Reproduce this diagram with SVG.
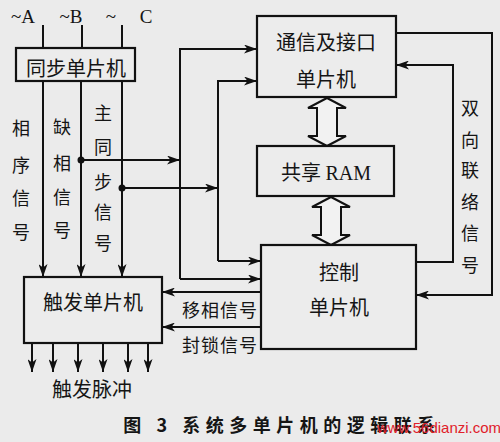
<svg xmlns="http://www.w3.org/2000/svg" width="500" height="442" viewBox="0 0 500 442">
<defs>
<style>
.box{fill:#ececec;stroke:#111;stroke-width:2.2}
.ln{fill:none;stroke:#111;stroke-width:2}
.ar{marker-end:url(#ah)}
.cn{font-family:"Noto Sans CJK SC","Noto Sans",sans-serif;fill:#151515;text-anchor:middle}
.t20{font-size:20px}
.t18{font-size:18px}
.dbl{fill:#f2f2f2;stroke:#111;stroke-width:2}
</style>
<marker id="ah" markerUnits="userSpaceOnUse" markerWidth="14" markerHeight="9" refX="13" refY="4.5" orient="auto">
<path d="M0,0 L13,4.5 L0,9 L3.5,4.5 z" fill="#111"/>
</marker>
</defs>
<rect width="500" height="442" fill="#ebebeb"/>

<g id="inputs">
<text x="23" y="23" font-family="Liberation Serif,serif" font-size="19" text-anchor="middle" fill="#151515">~A</text>
<text x="71" y="23" font-family="Liberation Serif,serif" font-size="19" text-anchor="middle" fill="#151515">~B</text>
<text x="111" y="23" font-family="Liberation Serif,serif" font-size="19" text-anchor="middle" fill="#151515">~</text>
<text x="146" y="23" font-family="Liberation Serif,serif" font-size="19" text-anchor="middle" fill="#151515">C</text>
</g>

<g id="connectors">
<path class="ln" d="M43,25 V48 M82,25 V48 M122,25 V48"/>
<path class="ln ar" d="M43,81 V277"/>
<path class="ln ar" d="M81,81 V277"/>
<path class="ln ar" d="M122,81 V277"/>
<path class="ln ar" d="M81,160 H180"/>
<path class="ln ar" d="M122,188 H218"/>
<path class="ln ar" d="M180,279 V49 H257"/>
<path class="ln ar" d="M180,279 H261"/>
<path class="ln ar" d="M218,261 V81 H257"/>
<path class="ln ar" d="M218,261 H261"/>
<path class="ln ar" d="M396,33 H492 V295 H416"/>
<path class="ln ar" d="M416,262 H453 V65 H396"/>
<path class="ln ar" d="M261,292 H162"/>
<path class="ln ar" d="M261,327 H162"/>
<path class="ln ar" d="M32,343 V372"/>
<path class="ln ar" d="M53,343 V372"/>
<path class="ln ar" d="M78,343 V372"/>
<path class="ln ar" d="M103,343 V372"/>
<path class="ln ar" d="M128,343 V372"/>
<path class="ln ar" d="M148,343 V372"/>
<circle cx="81" cy="160" r="3.5" fill="#111"/>
<circle cx="122" cy="188" r="3.5" fill="#111"/>
<path class="dbl" d="M327,98 L346,108 L337,108 L337,136 L346,136 L327,146 L308,136 L317,136 L317,108 L308,108 Z"/>
<path class="dbl" d="M331,197 L350,207 L341,207 L341,235 L350,235 L331,245 L312,235 L321,235 L321,207 L312,207 Z"/>
</g>

<g id="sync">
<rect class="box" x="16" y="48" width="119" height="33"/>
<text class="cn t20" x="76" y="76">同步单片机</text>
</g>

<g id="comm">
<rect class="box" x="257" y="16" width="139" height="81"/>
<text class="cn t20" x="326" y="50">通信及接口</text>
<text class="cn t20" x="326" y="87">单片机</text>
</g>

<g id="ram">
<rect class="box" x="257" y="146" width="137" height="50"/>
<text class="cn t20" x="326" y="180">共享 <tspan font-family="Liberation Serif,serif">RAM</tspan></text>
</g>

<g id="control">
<rect class="box" x="261" y="245" width="155" height="104"/>
<text class="cn t20" x="339" y="280">控制</text>
<text class="cn t20" x="339" y="315">单片机</text>
</g>

<g id="trigger">
<rect class="box" x="24" y="277" width="138" height="66"/>
<text class="cn t20" x="93" y="310">触发单片机</text>
</g>

<g id="labels">
<text class="cn t18"><tspan x="21" y="135">相</tspan><tspan x="21" y="172">序</tspan><tspan x="21" y="205">信</tspan><tspan x="21" y="239">号</tspan></text>
<text class="cn t18"><tspan x="62" y="134">缺</tspan><tspan x="62" y="170">相</tspan><tspan x="62" y="204">信</tspan><tspan x="62" y="237">号</tspan></text>
<text class="cn t18"><tspan x="103" y="120">主</tspan><tspan x="103" y="154">同</tspan><tspan x="103" y="189">步</tspan><tspan x="103" y="219">信</tspan><tspan x="103" y="250">号</tspan></text>
<text class="cn t18"><tspan x="470" y="115">双</tspan><tspan x="470" y="147">向</tspan><tspan x="470" y="177">联</tspan><tspan x="470" y="209">络</tspan><tspan x="470" y="240">信</tspan><tspan x="470" y="272">号</tspan></text>
<text class="cn t18" x="220" y="317" style="letter-spacing:1px">移相信号</text>
<text class="cn t18" x="220" y="352" style="letter-spacing:1px">封锁信号</text>
<text class="cn t20" x="92" y="397">触发脉冲</text>
<text class="cn" x="282" y="432" font-size="18" font-weight="bold" style="letter-spacing:5.5px">图 3 系统多单片机的逻辑联系</text>
<text x="439" y="433" font-family="Liberation Sans,sans-serif" font-size="15" text-anchor="middle" fill="#e0202a">www.56dianzi.com</text>
</g>
</svg>
